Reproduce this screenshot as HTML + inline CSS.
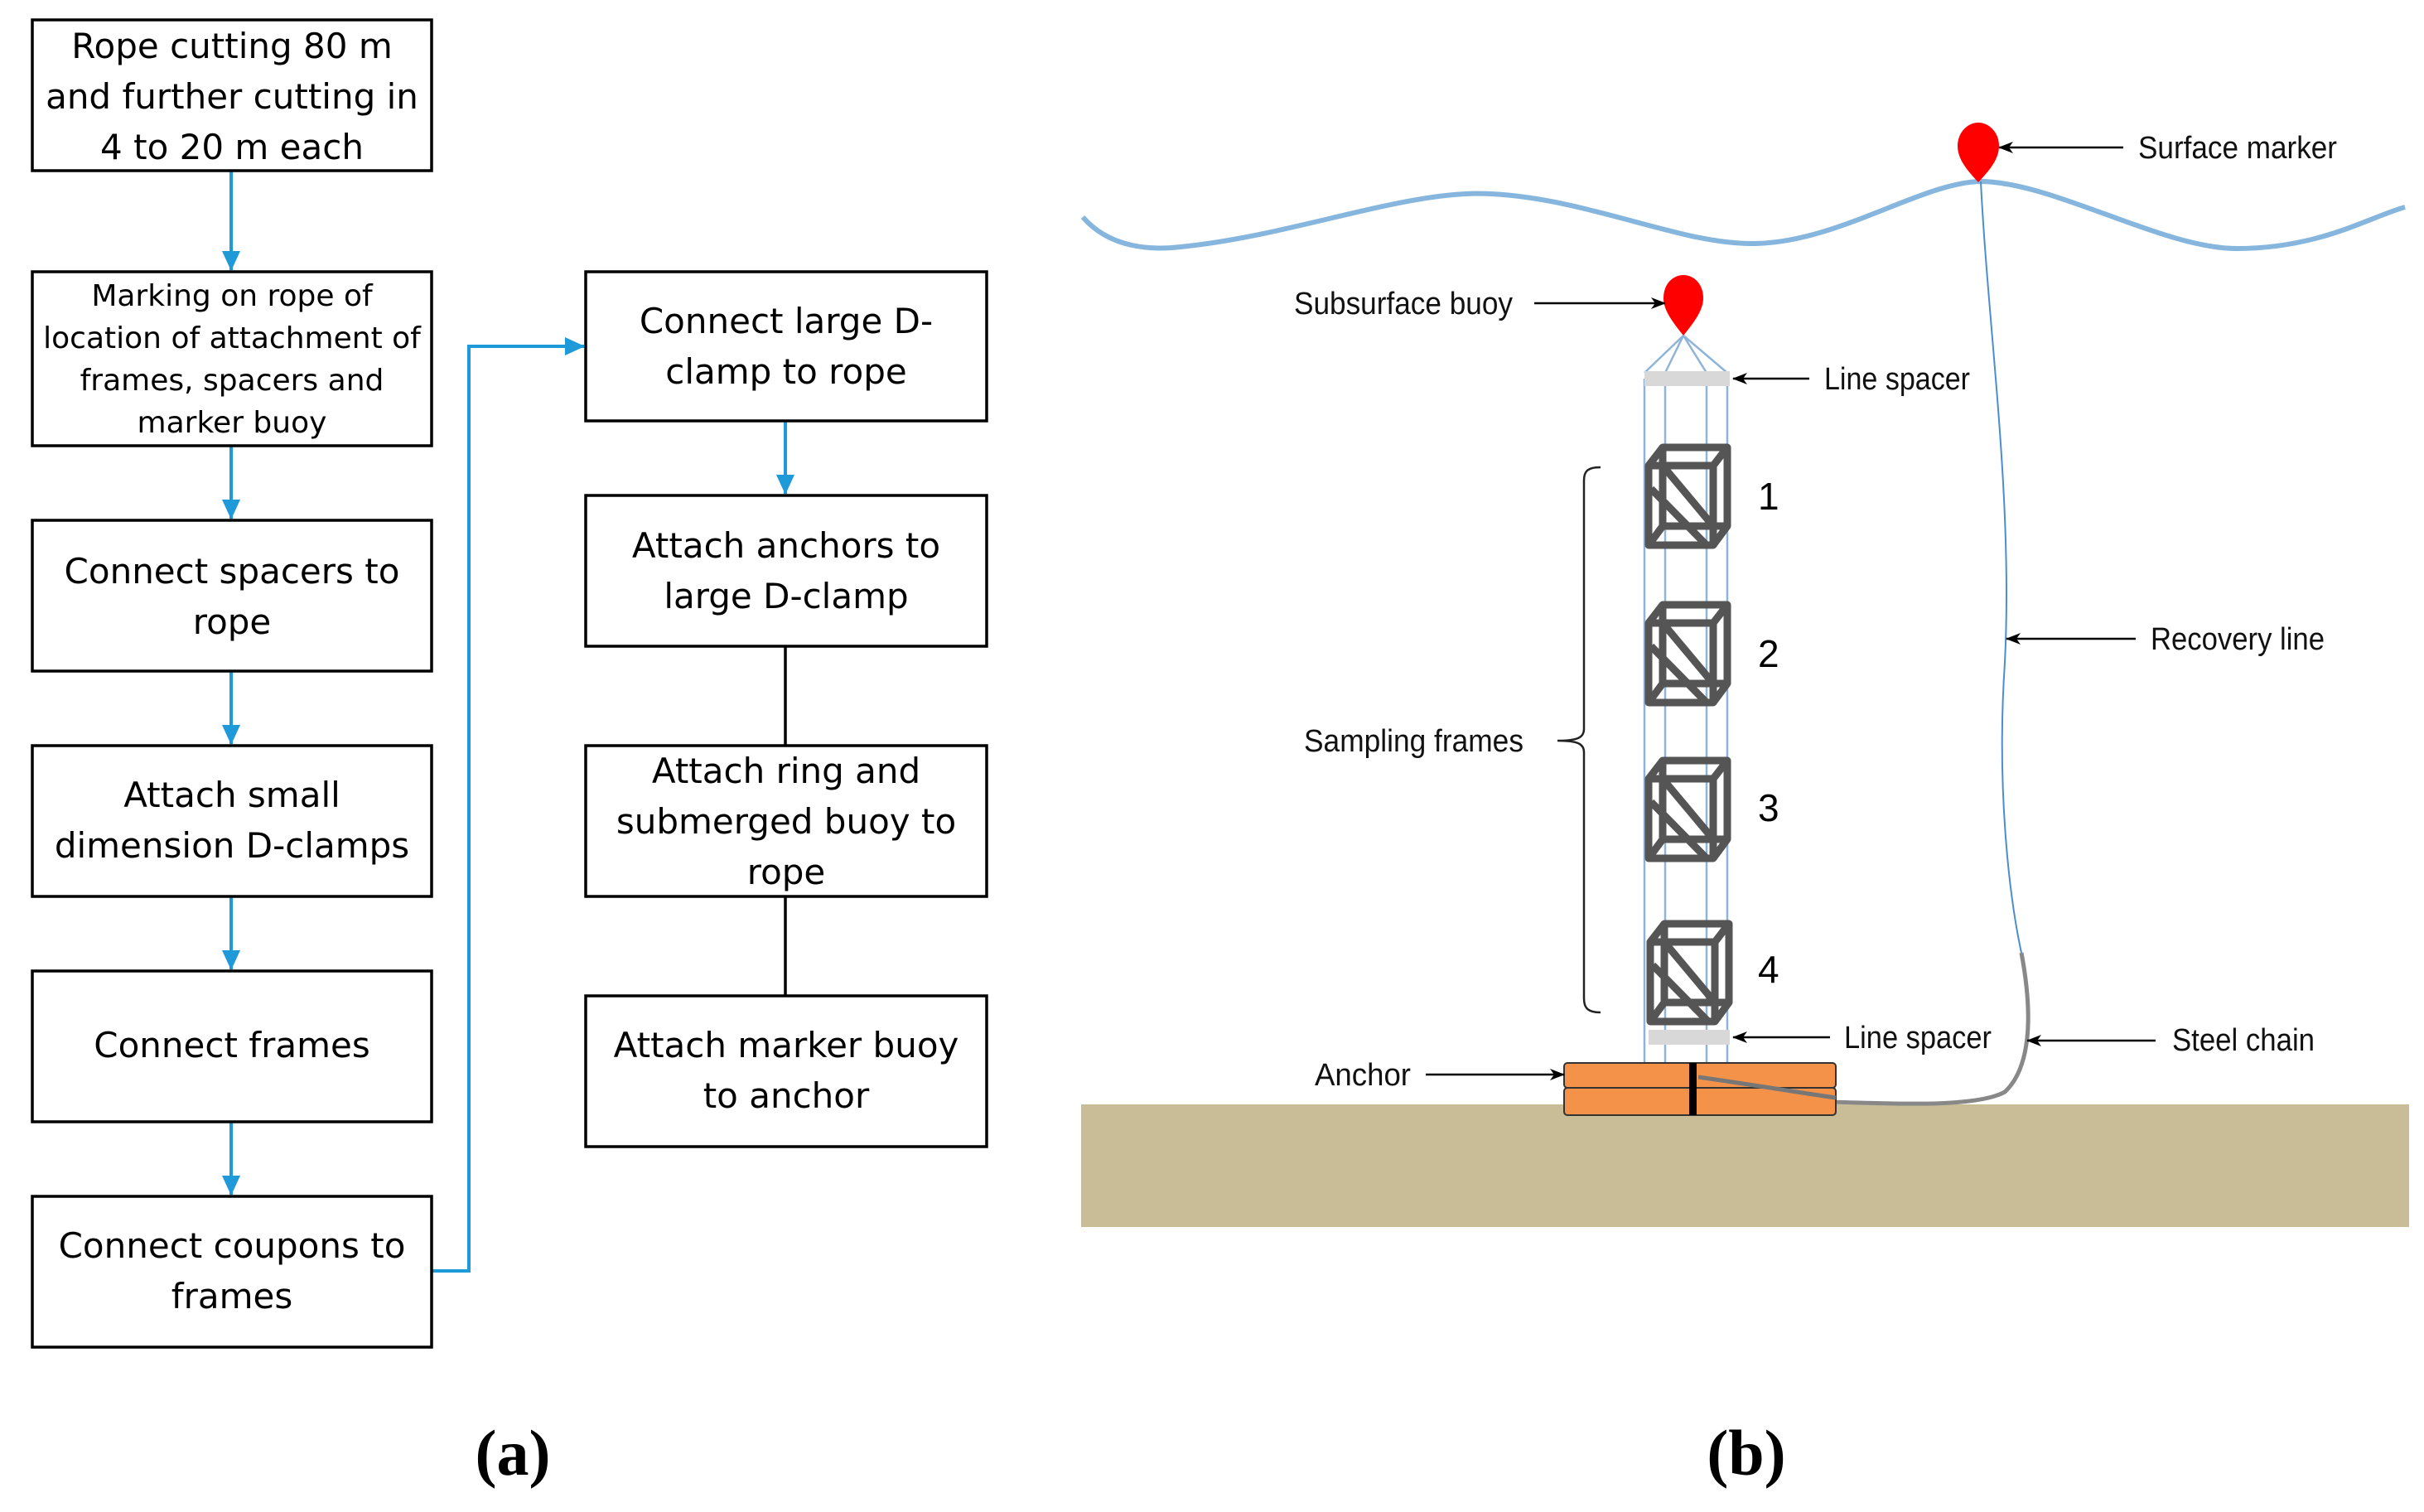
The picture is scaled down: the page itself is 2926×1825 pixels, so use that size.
<!DOCTYPE html>
<html><head><meta charset="utf-8"><style>
html,body{margin:0;padding:0;background:#fff;}
svg{display:block;}
.bx{fill:#fff;stroke:#000;stroke-width:3.5;}
.t{font-family:"DejaVu Sans","Liberation Sans",sans-serif;font-size:42px;text-anchor:middle;fill:#000;}
.l{font-family:"Liberation Sans",sans-serif;font-size:38px;fill:#111;}
.n{font-family:"Liberation Sans",sans-serif;font-size:46px;fill:#000;}
</style></head><body>
<svg width="2926" height="1825" viewBox="0 0 2926 1825" xmlns="http://www.w3.org/2000/svg">
<defs>
<marker id="ba" markerWidth="24" markerHeight="22" refX="23" refY="11" orient="auto" markerUnits="userSpaceOnUse"><path d="M0,0 L24,11 L0,22z" fill="#1f9ad9"/></marker>
<marker id="ka" markerWidth="18" markerHeight="14" refX="17" refY="7" orient="auto" markerUnits="userSpaceOnUse"><path d="M0,0 L18,7 L0,14 L5,7z" fill="#000"/></marker>
<g id="fr" fill="none" stroke="#555" stroke-width="9" stroke-linejoin="round">
<rect x="17" y="0" width="78" height="95"/>
<rect x="0" y="22" width="78" height="96"/>
<path d="M0,22 L17,0 M78,22 L95,0 M0,118 L17,95 M78,118 L95,95 M17,22 L78,95 M3,50 L70,118"/>
</g>
</defs>
<g stroke="#1f9ad9" stroke-width="4" fill="none">
<line x1="279" y1="206" x2="279" y2="326" marker-end="url(#ba)"/>
<line x1="279" y1="538" x2="279" y2="626" marker-end="url(#ba)"/>
<line x1="279" y1="810" x2="279" y2="898" marker-end="url(#ba)"/>
<line x1="279" y1="1082" x2="279" y2="1170" marker-end="url(#ba)"/>
<line x1="279" y1="1354" x2="279" y2="1442" marker-end="url(#ba)"/>
<polyline points="521,1534 566,1534 566,418 705,418" marker-end="url(#ba)"/>
<line x1="948" y1="508" x2="948" y2="596" marker-end="url(#ba)"/>
</g>
<g stroke="#000" stroke-width="3.5">
<line x1="948" y1="780" x2="948" y2="900"/>
<line x1="948" y1="1082" x2="948" y2="1202"/>
</g>
<rect class="bx" x="39" y="24" width="482" height="182"/>
<text class="t"><tspan x="280" y="70">Rope cutting 80 m</tspan><tspan x="280" y="131">and further cutting in</tspan><tspan x="280" y="192">4 to 20 m each</tspan></text>
<rect class="bx" x="39" y="328" width="482" height="210"/>
<text class="t" style="font-size:36px"><tspan x="280" y="369">Marking on rope of</tspan><tspan x="280" y="420">location of attachment of</tspan><tspan x="280" y="471">frames, spacers and</tspan><tspan x="280" y="522">marker buoy</tspan></text>
<rect class="bx" x="39" y="628" width="482" height="182"/>
<text class="t"><tspan x="280" y="704">Connect spacers to</tspan><tspan x="280" y="765">rope</tspan></text>
<rect class="bx" x="39" y="900" width="482" height="182"/>
<text class="t"><tspan x="280" y="974">Attach small</tspan><tspan x="280" y="1035">dimension D-clamps</tspan></text>
<rect class="bx" x="39" y="1172" width="482" height="182"/>
<text class="t"><tspan x="280" y="1276">Connect frames</tspan></text>
<rect class="bx" x="39" y="1444" width="482" height="182"/>
<text class="t"><tspan x="280" y="1518">Connect coupons to</tspan><tspan x="280" y="1579">frames</tspan></text>
<rect class="bx" x="707" y="328" width="484" height="180"/>
<text class="t"><tspan x="949" y="402">Connect large D-</tspan><tspan x="949" y="463">clamp to rope</tspan></text>
<rect class="bx" x="707" y="598" width="484" height="182"/>
<text class="t"><tspan x="949" y="673">Attach anchors to</tspan><tspan x="949" y="734">large D-clamp</tspan></text>
<rect class="bx" x="707" y="900" width="484" height="182"/>
<text class="t"><tspan x="949" y="945">Attach ring and</tspan><tspan x="949" y="1006">submerged buoy to</tspan><tspan x="949" y="1067">rope</tspan></text>
<rect class="bx" x="707" y="1202" width="484" height="182"/>
<text class="t"><tspan x="949" y="1276">Attach marker buoy</tspan><tspan x="949" y="1337">to anchor</tspan></text>
<text x="619" y="1780" text-anchor="middle" style="font-family:'Liberation Serif',serif;font-weight:bold;font-size:78px">(a)</text>
<text x="2108" y="1780" text-anchor="middle" style="font-family:'Liberation Serif',serif;font-weight:bold;font-size:78px">(b)</text>

<rect x="1305" y="1333" width="1603" height="148" fill="#c9bd98"/>
<path d="M1307,262 C1340,300 1390,302 1425,298 C1560,285 1700,228 1800,234 C1920,240 2030,296 2119,294 C2220,292 2320,220 2391,219 C2480,220 2610,300 2700,300 C2800,300 2860,262 2903,250" fill="none" stroke="#86b6dd" stroke-width="6"/>
<path d="M2391,219 C2400,400 2430,600 2420,800 C2410,950 2425,1080 2440,1150" fill="none" stroke="#4a8ecf" stroke-width="2"/>
<path d="M2440,1150 C2455,1230 2450,1290 2420,1318 C2380,1340 2250,1330 2200,1330 C2140,1330 2100,1310 2060,1300" fill="none" stroke="#888" stroke-width="5"/>
<g stroke="#8fb4d9" stroke-width="2.5" fill="none">
<line x1="1985" y1="457" x2="1985" y2="1284"/>
<line x1="2010" y1="457" x2="2010" y2="1284"/>
<line x1="2060" y1="457" x2="2060" y2="1284"/>
<line x1="2085" y1="457" x2="2085" y2="1284"/>
<path d="M2032,405 L1985,450 M2032,405 L2010,450 M2032,405 L2060,450 M2032,405 L2085,450"/>
</g>
<rect x="1985" y="448" width="103" height="18" fill="#d8d8d8"/>
<rect x="1990" y="1243" width="98" height="18" fill="#d8d8d8"/>
<use href="#fr" x="1990" y="540"/>
<use href="#fr" x="1990" y="730"/>
<use href="#fr" x="1990" y="918"/>
<use href="#fr" x="1992" y="1115"/>
<text class="n" x="2122" y="615">1</text>
<text class="n" x="2122" y="805">2</text>
<text class="n" x="2122" y="991">3</text>
<text class="n" x="2122" y="1186">4</text>
<path d="M2032,405 C2020,390 2008,375 2008,360 C2008,342 2020,332 2032,332 C2044,332 2056,342 2056,360 C2056,375 2044,390 2032,405z" fill="#f00"/>
<path d="M2388,220 C2374,205 2363,192 2363,176 C2363,160 2375,148 2388,148 C2401,148 2413,160 2413,176 C2413,192 2402,205 2388,220z" fill="#f00"/>
<rect x="1888" y="1283" width="328" height="30" rx="4" fill="#f4924a" stroke="#333" stroke-width="2"/>
<rect x="1888" y="1313" width="328" height="33" rx="4" fill="#f4924a" stroke="#333" stroke-width="2"/>
<rect x="2039" y="1283" width="9" height="63" fill="#000"/>
<path d="M2050,1300 C2120,1310 2180,1320 2216,1325" stroke="#777" stroke-width="5" fill="none"/>
<path d="M1932,564 C1915,564 1912,570 1912,580 L1912,880 C1912,890 1905,894 1880,894 C1905,894 1912,898 1912,908 L1912,1205 C1912,1215 1915,1222 1932,1222" fill="none" stroke="#222" stroke-width="2.5"/>
<g stroke="#000" stroke-width="2.5" fill="none">
<line x1="2563" y1="178" x2="2413" y2="178" marker-end="url(#ka)"/>
<line x1="1852" y1="366" x2="2010" y2="366" marker-end="url(#ka)"/>
<line x1="2184" y1="457" x2="2092" y2="457" marker-end="url(#ka)"/>
<line x1="2578" y1="771" x2="2422" y2="771" marker-end="url(#ka)"/>
<line x1="2209" y1="1252" x2="2092" y2="1252" marker-end="url(#ka)"/>
<line x1="2602" y1="1256" x2="2447" y2="1256" marker-end="url(#ka)"/>
<line x1="1721" y1="1297" x2="1888" y2="1297" marker-end="url(#ka)"/>
</g>
<text class="l" x="2581" y="191" textLength="240" lengthAdjust="spacingAndGlyphs">Surface marker</text>
<text class="l" x="1562" y="379" textLength="264" lengthAdjust="spacingAndGlyphs">Subsurface buoy</text>
<text class="l" x="2202" y="470" textLength="176" lengthAdjust="spacingAndGlyphs">Line spacer</text>
<text class="l" x="2596" y="784" textLength="210" lengthAdjust="spacingAndGlyphs">Recovery line</text>
<text class="l" x="1574" y="907" textLength="265" lengthAdjust="spacingAndGlyphs">Sampling frames</text>
<text class="l" x="2226" y="1265" textLength="178" lengthAdjust="spacingAndGlyphs">Line spacer</text>
<text class="l" x="2622" y="1268" textLength="172" lengthAdjust="spacingAndGlyphs">Steel chain</text>
<text class="l" x="1587" y="1310" textLength="116" lengthAdjust="spacingAndGlyphs">Anchor</text>
</svg>
</body></html>
